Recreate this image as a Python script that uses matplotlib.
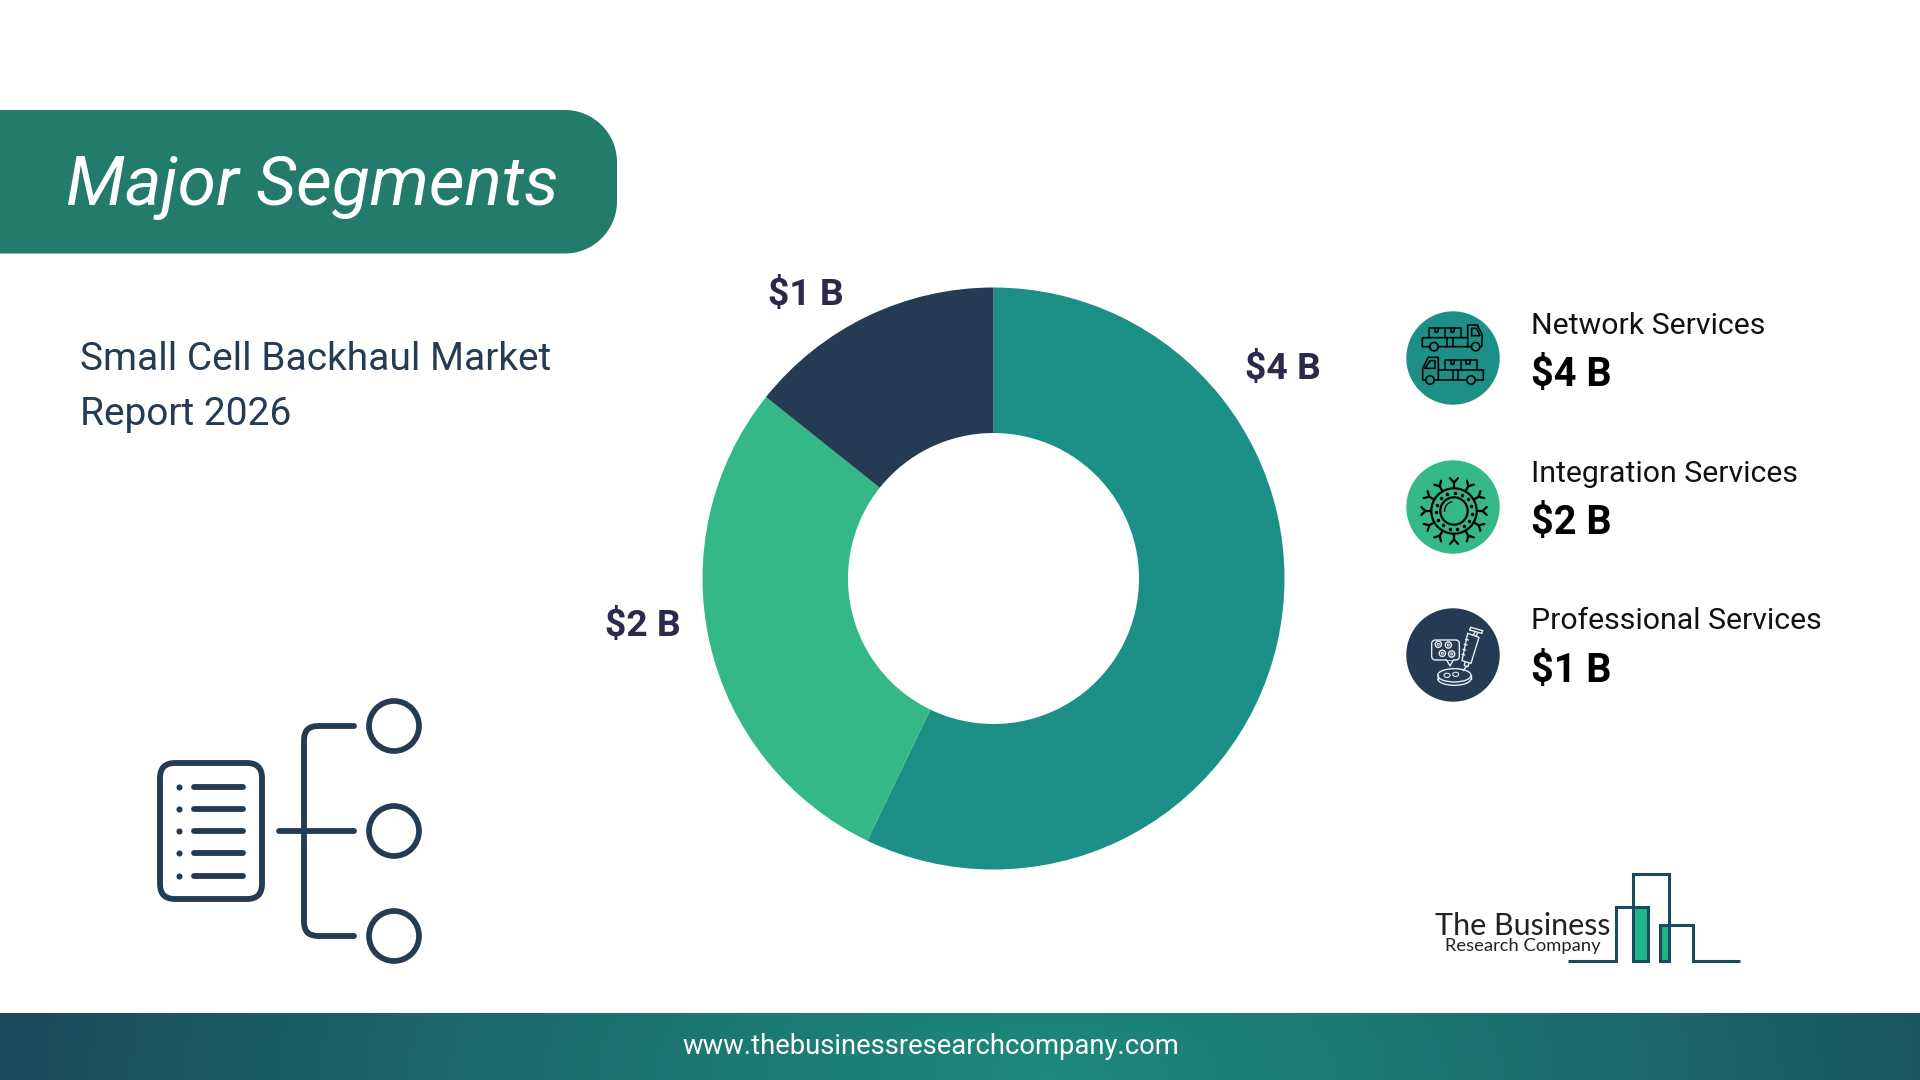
import numpy as np
import matplotlib
matplotlib.use("Agg")
import matplotlib.pyplot as plt
from matplotlib.patches import Circle, FancyBboxPatch, Rectangle, PathPatch, Polygon, Ellipse, Arc
from matplotlib.path import Path
from matplotlib.colors import LinearSegmentedColormap

plt.rcParams['font.family'] = ['Roboto', 'DejaVu Sans']

categories = ["Network Services", "Integration Services", "Professional Services"]
values = [4, 2, 1]
value_labels = ["$4 B", "$2 B", "$1 B"]
slice_colors = ["#1C8F86", "#34B888", "#243B53"]
title = "Major Segments"
subtitle_lines = ["Small Cell Backhaul Market", "Report 2026"]
footer = "www.thebusinessresearchcompany.com"
logo_lines = ["The Business", "Research Company"]

W, H = 1920, 1080
fig = plt.figure(figsize=(19.2, 10.8), dpi=100, facecolor="white")
bg = fig.add_axes([0, 0, 1, 1])
bg.set_xlim(0, W); bg.set_ylim(H, 0); bg.axis("off")

NAVY = "#243B53"

# footer radial gradient
cm = LinearSegmentedColormap.from_list("f", ["#1E8A7E", "#1C6E6E", "#1B4A5A"])
gx, gy = np.meshgrid(np.linspace(0, W, 480), np.linspace(1013, 1080, 20))
gt = np.clip(np.hypot((gx - 1050) / 1050, (gy - 1080) / 500), 0, 1)
bg.imshow(gt, extent=[0, W, 1080, 1013], cmap=cm, vmin=0, vmax=1, aspect="auto", zorder=1)
bg.set_xlim(0, W); bg.set_ylim(H, 0)
bg.text(931, 1046, footer, color="white", fontsize=19.7, ha="center", va="center", zorder=2)

# header pill with circular right corners
pr, pk, px, pt, pb = 52, 0.55, 617, 110, 253.5
pill = Path([(0, pt), (px - pr, pt),
             (px - pr + pk * pr, pt), (px, pt + pr - pk * pr), (px, pt + pr),
             (px, pb - pr),
             (px, pb - pr + pk * pr), (px - pr + pk * pr, pb), (px - pr, pb),
             (0, pb), (0, pt)],
            [Path.MOVETO, Path.LINETO, Path.CURVE4, Path.CURVE4, Path.CURVE4, Path.LINETO,
             Path.CURVE4, Path.CURVE4, Path.CURVE4, Path.LINETO, Path.CLOSEPOLY])
bg.add_patch(PathPatch(pill, fc="#237B6C", ec="none", zorder=1))
bg.text(66, 187, title, color="white", fontsize=50, style="italic", ha="left", va="center", zorder=2)
bg.text(80, 360, subtitle_lines[0], color=NAVY, fontsize=28, ha="left", va="center")
bg.text(80, 414.5, subtitle_lines[1], color=NAVY, fontsize=28, ha="left", va="center")

# donut
cx, cy, R = 993.5, 578.5, 291
ax = fig.add_axes([(cx - R) / W, 1 - (cy + R) / H, 2 * R / W, 2 * R / H])
ax.pie(values, colors=slice_colors, startangle=90, counterclock=False, radius=1,
       wedgeprops=dict(width=0.5, linewidth=0))
ax.set_xlim(-1, 1); ax.set_ylim(-1, 1)

label_xy = [(1283, 369), (643, 626), (806, 295)]
for (x, y), t in zip(label_xy, value_labels):
    bg.text(x, y, t, color="#2B2A4C", fontsize=26.8, fontweight="bold", ha="center", va="center")

# legend
ly = [358, 507, 655]
name_y = [326, 474, 621]
value_y = [375, 523, 670.5]
for y, ny, vy, c, col, t in zip(ly, name_y, value_y, categories, slice_colors, value_labels):
    bg.add_patch(Circle((1453, y), 46.7, fc=col, ec="none"))
    bg.text(1531, ny, c, color="#111111", fontsize=21.8, ha="left", va="center")
    bg.text(1531, vy, t, color="black", fontsize=28.5, fontweight="bold", ha="left", va="center")


def line(xs, ys, c="black", lw=1.5, z=5):
    bg.plot(xs, ys, color=c, lw=lw, solid_capstyle="round", solid_joinstyle="round", zorder=z)


def box(x, y, w, h, c="black", lw=1.5, fc="none", z=5, r=0):
    if r:
        bg.add_patch(FancyBboxPatch((x, y), w, h, boxstyle=f"round,pad=0,rounding_size={r}",
                                    fc=fc, ec=c, lw=lw, zorder=z))
    else:
        bg.add_patch(Rectangle((x, y), w, h, fc=fc, ec=c, lw=lw, zorder=z))


def ring(x, y, r, c="black", lw=1.5, fc="none", z=5):
    bg.add_patch(Circle((x, y), r, fc=fc, ec=c, lw=lw, zorder=z))


# truck icon, in crop coordinates (3 px per px, origin 1400,305)
def T(pts):
    return [1400 + p[0] / 3 for p in pts], [305 + p[1] / 3 for p in pts]


TL = 1.15
for pts in (
    [(203, 98), (67, 98), (67, 125), (245, 125), (247, 90), (232, 60), (203, 60), (203, 125)],
    [(215, 92), (215, 70), (230, 70), (240, 92), (215, 92)],
    [(88, 98), (88, 68), (182, 68), (182, 98)], [(135, 68), (135, 98)],
    [(142, 98), (142, 125)], [(158, 98), (158, 125)],
    [(105, 68), (105, 80), (115, 80), (115, 68)], [(152, 68), (152, 80), (162, 80), (162, 68)],
    [(115, 195), (250, 195), (250, 225), (68, 225), (68, 190), (85, 157), (115, 157), (115, 225)],
    [(75, 190), (90, 167), (105, 167), (105, 190), (75, 190)],
    [(135, 195), (135, 165), (230, 165), (230, 195)], [(182, 165), (182, 195)],
    [(158, 195), (158, 225)], [(173, 195), (173, 225)],
    [(152, 165), (152, 177), (162, 177), (162, 165)], [(199, 165), (199, 177), (209, 177), (209, 165)],
):
    line(*T(pts), lw=TL)
for zx, zy in ((102, 125), (227, 125), (90, 225), (213, 225)):
    ring(1400 + zx / 3, 305 + zy / 3, 4.2, lw=TL, fc=slice_colors[0], z=6)

# cell icon
ox, oy = 1454, 511
CL = 1.6
ring(ox, oy, 22.7, lw=CL)
ring(ox, oy, 13.7, lw=CL)
bg.add_patch(Arc((ox, oy), 19, 19, theta1=175, theta2=260, color="black", lw=0.9, zorder=5))
for a in np.deg2rad(np.arange(0, 360, 24) + 8):
    bg.plot(ox + 18.2 * np.cos(a), oy + 18.2 * np.sin(a), "o", ms=1.5, color="black", zorder=5)
for a in np.deg2rad(np.arange(0, 360, 30) - 90):
    c_, s_ = np.cos(a), np.sin(a)
    line([ox + 22.7 * c_, ox + 28.5 * c_], [oy + 22.7 * s_, oy + 28.5 * s_], lw=CL)
    for d in (-0.12, 0.12):
        line([ox + 28.5 * c_, ox + 33 * np.cos(a + d)], [oy + 28.5 * s_, oy + 33 * np.sin(a + d)], lw=CL)


# syringe icon, in crop coordinates (origin 1400,600)
def S(pts):
    return [1400 + p[0] / 3 for p in pts], [600 + p[1] / 3 for p in pts]


WH = "#E8EEF2"
SL = 1.0
box(1400 + 95 / 3, 600 + 120 / 3, 83 / 3, 60 / 3, c=WH, lw=SL, r=4)
line(*S([(140, 180), (150, 198), (160, 180)]), c=WH, lw=SL)
bg.add_patch(Rectangle((1400 + 141 / 3, 600 + 177 / 3), 18 / 3, 4 / 3, fc=slice_colors[2], ec="none", zorder=5.5))
for zx, zy in ((115, 133), (145, 135), (127, 160), (155, 162)):
    ring(1400 + zx / 3, 600 + zy / 3, 3.1, c=WH, lw=SL)
    ring(1400 + zx / 3, 600 + zy / 3, 1.0, c=WH, lw=0.7)
for pts in (
    [(203, 100), (237, 112), (213, 190), (186, 182), (203, 100)],
    [(212, 82), (248, 92)], [(209, 90), (245, 100)], [(212, 82), (209, 90)], [(248, 92), (245, 100)],
    [(224, 98), (220, 106)], [(232, 100), (228, 109)],
    [(195, 186), (193, 197), (204, 200), (207, 190)], [(199, 199), (190, 212)],
    [(197, 118), (205, 120)], [(193, 133), (201, 135)], [(189, 148), (197, 150)], [(186, 163), (194, 165)],
):
    line(*S(pts), c=WH, lw=SL)
bg.add_patch(Ellipse((1400 + 163 / 3, 600 + 226 / 3), 100 / 3, 40 / 3, fc="none", ec=WH, lw=SL, zorder=5))
bg.add_patch(Arc((1400 + 163 / 3, 600 + 236 / 3), 100 / 3, 40 / 3, theta1=0, theta2=180, color=WH, lw=SL, zorder=5))
line(*S([(113, 226), (113, 236)]), c=WH, lw=SL)
line(*S([(213, 226), (213, 236)]), c=WH, lw=SL)
for zx, zy in ((141, 226), (167, 223)):
    bg.add_patch(Ellipse((1400 + zx / 3, 600 + zy / 3), 6, 4.2, fc="none", ec=WH, lw=0.8, zorder=5))

# hierarchy icon
IC = "#243B53"
box(160, 763, 102, 136, c=IC, lw=4.2, r=15)
for y in (787, 809, 831, 853, 876):
    bg.plot(179, y, "o", ms=4.4, color=IC, mec="none")
    line([194, 243], [y, y], c=IC, lw=4.2)
line([279, 354], [831, 831], c=IC, lw=4.2)
top, bot, vx = 726, 936, 304
v = Path([(354, top), (vx + 14, top), (vx, top), (vx, top + 14), (vx, bot - 14), (vx, bot), (vx + 14, bot), (354, bot)],
         [Path.MOVETO, Path.LINETO, Path.CURVE3, Path.CURVE3, Path.LINETO, Path.CURVE3, Path.CURVE3, Path.LINETO])
bg.add_patch(PathPatch(v, fc="none", ec=IC, lw=4.2, capstyle="round", zorder=3))
for y in (726, 831, 936):
    ring(394, y, 25, c=IC, lw=4.1)

# logo
LG = "#1B4A5E"
GR = "#1FB488"
bg.add_patch(Rectangle((1633, 907), 14, 54, fc=GR, ec="none", zorder=3))
bg.add_patch(Rectangle((1660, 925), 9, 36, fc=GR, ec="none", zorder=3))
logo_line = dict(color=LG, lw=2.2, solid_joinstyle="miter", solid_capstyle="butt", zorder=4)
bg.plot([1568, 1615.5, 1615.5, 1647.5, 1647.5, 1632.5, 1632.5, 1669, 1669, 1660, 1660, 1693, 1693, 1740],
        [961, 961, 907, 907, 961, 961, 874, 874, 961, 961, 924.5, 924.5, 961, 961], **logo_line)
bg.text(1523, 926, logo_lines[0], color="#222222", fontsize=22, family="Lato", ha="center", va="center")
bg.text(1523, 946, logo_lines[1], color="#222222", fontsize=13.2, family="Lato", ha="center", va="center")

fig.savefig("out.png", dpi=100)
